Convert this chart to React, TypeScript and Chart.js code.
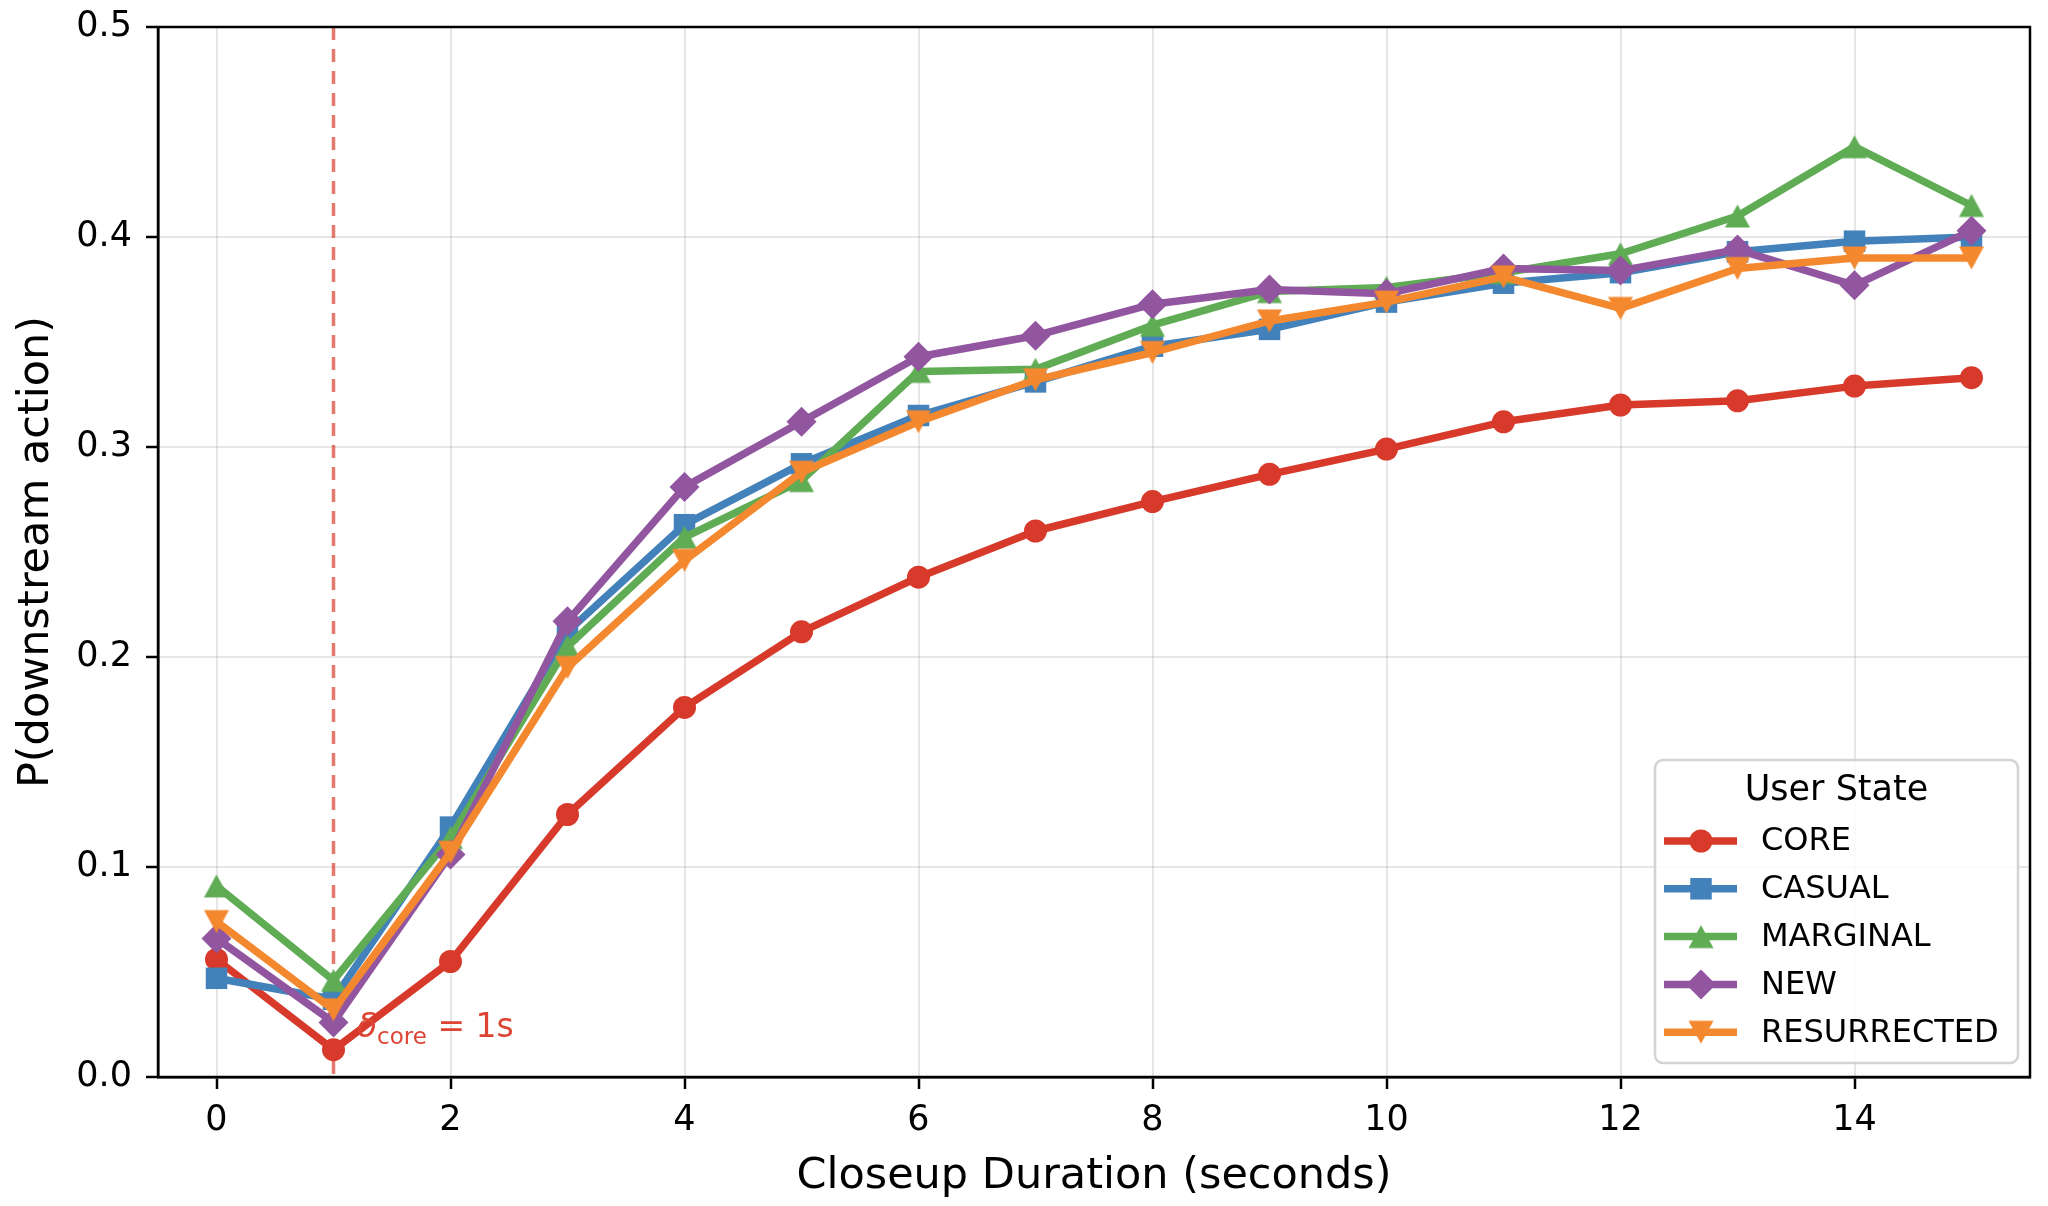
import { useEffect, useRef } from 'react';
import { Chart, registerables } from 'chart.js';

Chart.register(...registerables);

// Closeup duration (seconds) on the x axis
const DURATIONS = [0, 1, 2, 3, 4, 5, 6, 7, 8, 9, 10, 11, 12, 13, 14, 15];

// P(downstream action) per user state
const CORE = [0.056, 0.013, 0.055, 0.125, 0.176, 0.212, 0.238, 0.260, 0.274, 0.287, 0.299, 0.312, 0.320, 0.322, 0.329, 0.333];
const CASUAL = [0.047, 0.037, 0.119, 0.212, 0.263, 0.292, 0.315, 0.331, 0.348, 0.356, 0.369, 0.378, 0.383, 0.393, 0.398, 0.400];
const MARGINAL = [0.091, 0.046, 0.114, 0.205, 0.257, 0.284, 0.336, 0.337, 0.358, 0.374, 0.376, 0.383, 0.392, 0.410, 0.443, 0.415];
const NEW = [0.066, 0.026, 0.106, 0.217, 0.281, 0.312, 0.343, 0.353, 0.368, 0.375, 0.373, 0.385, 0.384, 0.394, 0.377, 0.403];
const RESURRECTED = [0.074, 0.032, 0.107, 0.195, 0.246, 0.288, 0.312, 0.332, 0.345, 0.360, 0.369, 0.381, 0.366, 0.385, 0.390, 0.390];

const SERIES_NAMES = ['CORE', 'CASUAL', 'MARGINAL', 'NEW', 'RESURRECTED'];
const SERIES_VALUES = [CORE, CASUAL, MARGINAL, NEW, RESURRECTED];

const X_TICKS = [0, 2, 4, 6, 8, 10, 12, 14];
const Y_TICKS = [0, 0.1, 0.2, 0.3, 0.4, 0.5];

// Core threshold marker
const THRESHOLD_X = 1;
const THRESHOLD_LABEL_X = 1.2;
const THRESHOLD_LABEL_Y = 0.02;

const LEGEND_TITLE = 'User State';
const X_TITLE = 'Closeup Duration (seconds)';
const Y_TITLE = 'P(downstream action)';

// ---- styling ----
const W = 2048;
const H = 1206;
const FONT = "'DejaVu Sans', sans-serif";
const COLORS = ['#d73a2a', '#4281b9', '#5fac55', '#9256a0', '#f4882f'];
const MARKERS = ['circle', 'square', 'triUp', 'diamond', 'triDown'];
const LINE_WIDTH = 7.5;
const GRID_COLOR = 'rgba(176,176,176,0.32)';
const SPINE_WIDTH = 2.5;

// Triangles centred on their bounding box (Chart.js centres them on the circumcentre)
function triangleCanvas(color: string, down: boolean): HTMLCanvasElement {
  const c = document.createElement('canvas');
  const size = 30;
  c.width = size;
  c.height = size;
  const g = c.getContext('2d')!;
  const hw = 12.5;
  const hh = 11.5;
  const m = size / 2;
  g.fillStyle = color;
  g.beginPath();
  if (down) {
    g.moveTo(m, m + hh);
    g.lineTo(m - hw, m - hh);
    g.lineTo(m + hw, m - hh);
  } else {
    g.moveTo(m, m - hh);
    g.lineTo(m - hw, m + hh);
    g.lineTo(m + hw, m + hh);
  }
  g.closePath();
  g.fill();
  return c;
}

function pointStyleFor(marker: string, color: string): any {
  if (marker === 'circle') return 'circle';
  if (marker === 'square') return 'rect';
  if (marker === 'diamond') return 'rectRot';
  return triangleCanvas(color, marker === 'triDown');
}

function radiusFor(marker: string): number {
  if (marker === 'circle') return 11.5;
  if (marker === 'square') return 15.2;
  if (marker === 'diamond') return 15;
  return 14;
}

function drawMarker(ctx: CanvasRenderingContext2D, x: number, y: number, style: any, r: number, color: string) {
  ctx.save();
  ctx.fillStyle = color;
  if (typeof style !== 'string') {
    ctx.drawImage(style, x - style.width / 2, y - style.height / 2);
    ctx.restore();
    return;
  }
  ctx.beginPath();
  if (style === 'circle') {
    ctx.arc(x, y, r, 0, Math.PI * 2);
  } else if (style === 'rect') {
    const s = Math.SQRT1_2 * r;
    ctx.rect(x - s, y - s, 2 * s, 2 * s);
  } else {
    ctx.moveTo(x, y - r);
    ctx.lineTo(x + r, y);
    ctx.lineTo(x, y + r);
    ctx.lineTo(x - r, y);
    ctx.closePath();
  }
  ctx.fill();
  ctx.restore();
}

const decorations = {
  id: 'decorations',
  beforeDatasetsDraw(chart: any) {
    const { ctx, chartArea, scales } = chart;
    const x = scales.x.getPixelForValue(THRESHOLD_X);
    ctx.save();
    ctx.strokeStyle = 'rgba(215,58,42,0.68)';
    ctx.lineWidth = 3.5;
    ctx.setLineDash([13, 9]);
    ctx.beginPath();
    ctx.moveTo(x, chartArea.top);
    ctx.lineTo(x, chartArea.bottom);
    ctx.stroke();
    ctx.restore();
  },
  afterDatasetsDraw(chart: any) {
    const { ctx, chartArea, scales } = chart;
    // frame on all four sides
    ctx.save();
    ctx.strokeStyle = '#000';
    ctx.lineWidth = SPINE_WIDTH;
    ctx.strokeRect(chartArea.left, chartArea.top, chartArea.right - chartArea.left, chartArea.bottom - chartArea.top);
    ctx.restore();

    // threshold label: δ_core = 1s
    const tx = scales.x.getPixelForValue(THRESHOLD_LABEL_X);
    const ty = scales.y.getPixelForValue(THRESHOLD_LABEL_Y);
    ctx.save();
    ctx.fillStyle = '#de4434';
    ctx.textBaseline = 'alphabetic';
    ctx.textAlign = 'left';
    ctx.font = `italic 33px ${FONT}`;
    ctx.fillText('δ', tx, ty + 2);
    let cx = tx + ctx.measureText('δ').width;
    ctx.font = `23px ${FONT}`;
    ctx.fillText('core', cx, ty + 9);
    cx += ctx.measureText('core').width;
    ctx.font = `33px ${FONT}`;
    ctx.fillText(' = 1s', cx, ty + 2);
    ctx.restore();

    // legend
    const boxRight = chartArea.right - 12;
    const boxBottom = chartArea.bottom - 14;
    const boxW = 363;
    const boxH = 303;
    const bx = boxRight - boxW;
    const by = boxBottom - boxH;
    ctx.save();
    ctx.beginPath();
    ctx.roundRect(bx, by, boxW, boxH, 8);
    ctx.fillStyle = 'rgba(255,255,255,0.85)';
    ctx.fill();
    ctx.strokeStyle = '#d3d3d3';
    ctx.lineWidth = 2.5;
    ctx.stroke();

    ctx.fillStyle = '#000';
    ctx.textBaseline = 'middle';
    ctx.textAlign = 'center';
    ctx.font = `35px ${FONT}`;
    ctx.fillText(LEGEND_TITLE, bx + boxW / 2, by + 31);

    ctx.textAlign = 'left';
    ctx.font = `32px ${FONT}`;
    chart.data.datasets.forEach((ds: any, i: number) => {
      const ry = by + 81 + i * 47.8;
      ctx.strokeStyle = ds.borderColor;
      ctx.lineWidth = LINE_WIDTH;
      ctx.beginPath();
      ctx.moveTo(bx + 9, ry);
      ctx.lineTo(bx + 82, ry);
      ctx.stroke();
      drawMarker(ctx, bx + 46, ry, ds.pointStyle, ds.pointRadius, ds.borderColor);
      ctx.fillStyle = '#000';
      ctx.fillText(ds.label, bx + 106, ry + 1);
    });
    ctx.restore();
  },
};

export default function App() {
  const canvasRef = useRef<HTMLCanvasElement | null>(null);

  useEffect(() => {
    document.body.style.margin = '0';
    const canvas = canvasRef.current;
    if (!canvas) return;

    const datasets = SERIES_NAMES.map((name, i) => ({
      label: name,
      data: DURATIONS.map((d, j) => ({ x: d, y: SERIES_VALUES[i][j] })),
      borderColor: COLORS[i],
      backgroundColor: COLORS[i],
      borderWidth: LINE_WIDTH,
      borderJoinStyle: 'round' as const,
      pointStyle: pointStyleFor(MARKERS[i], COLORS[i]),
      pointRadius: radiusFor(MARKERS[i]),
      pointBorderWidth: 0,
      pointBackgroundColor: COLORS[i],
      pointBorderColor: COLORS[i],
      tension: 0,
      order: SERIES_NAMES.length - i,
      clip: 20,
    }));

    const chart = new Chart(canvas, {
      type: 'line',
      data: { datasets },
      options: {
        responsive: false,
        animation: false,
        devicePixelRatio: 1,
        layout: { padding: { top: 27, right: 18, left: 0, bottom: 0 } },
        plugins: { legend: { display: false }, tooltip: { enabled: false } },
        scales: {
          x: {
            type: 'linear',
            min: -0.5,
            max: 15.5,
            afterBuildTicks: (scale: any) => {
              scale.ticks = X_TICKS.map((v) => ({ value: v }));
            },
            afterFit: (scale: any) => {
              scale.height = 129;
              scale.paddingLeft = 0;
              scale.paddingRight = 0;
            },
            grid: { color: GRID_COLOR, lineWidth: 2, tickColor: '#000', tickLength: 12, tickWidth: 2.5 },
            border: { color: '#000', width: SPINE_WIDTH },
            ticks: {
              color: '#000',
              font: { family: FONT, size: 35 },
              padding: 11,
              maxRotation: 0,
              callback: (v: any) => String(v),
            },
            title: {
              display: true,
              text: X_TITLE,
              color: '#000',
              font: { family: FONT, size: 43 },
              padding: { top: 0, bottom: 3 },
            },
          },
          y: {
            type: 'linear',
            min: 0,
            max: 0.5,
            afterBuildTicks: (scale: any) => {
              scale.ticks = Y_TICKS.map((v) => ({ value: v }));
            },
            afterFit: (scale: any) => {
              scale.width = 158;
              scale.paddingTop = 0;
              scale.paddingBottom = 0;
            },
            grid: { color: GRID_COLOR, lineWidth: 2, tickColor: '#000', tickLength: 12, tickWidth: 2.5 },
            border: { color: '#000', width: SPINE_WIDTH },
            ticks: {
              color: '#000',
              font: { family: FONT, size: 35 },
              padding: 14,
              callback: (v: any) => Number(v).toFixed(1),
            },
            title: {
              display: true,
              text: Y_TITLE,
              color: '#000',
              font: { family: FONT, size: 43 },
              padding: { top: 11, bottom: 0 },
            },
          },
        },
      },
      plugins: [decorations],
    });

    return () => chart.destroy();
  }, []);

  return (
    <div style={{ width: W, height: H, position: 'relative', background: '#fff' }}>
      <canvas ref={canvasRef} width={W} height={H} style={{ width: W, height: H, display: 'block' }} />
    </div>
  );
}
